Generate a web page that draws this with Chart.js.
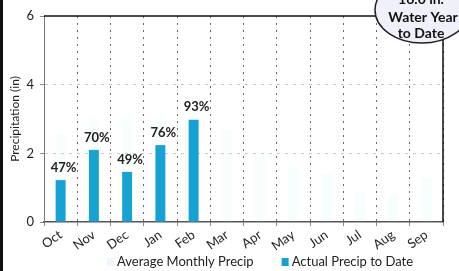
<!DOCTYPE html>
<html>
<head>
<meta charset="utf-8">
<script src="https://cdn.jsdelivr.net/npm/chart.js@4"></script>
<style>
  html, body { margin: 0; padding: 0; background: #fff; }
  #wrap { width: 459px; height: 271px; }
</style>
</head>
<body>
<div id="wrap"><canvas id="Chart1" width="459" height="271"></canvas></div>
<script>
// data
var months = ["Oct", "Nov", "Dec", "Jan", "Feb", "Mar", "Apr", "May", "Jun", "Jul", "Aug", "Sep"];
var averagePrecip = [2.55, 3.0, 2.95, 2.95, 3.2, 2.7, 1.9, 1.6, 1.4, 0.9, 0.8, 1.3];
var actualPrecip = [1.22, 2.1, 1.46, 2.24, 2.98, null, null, null, null, null, null, null];
var percentLabels = ["47%", "70%", "49%", "76%", "93%"];
var yTicks = [0, 2, 4, 6];
var badgeLines = ["16.0 in.", "Water Year", "to Date"];

var font = "Lato, 'DejaVu Sans', sans-serif";

// percentages above the actual bars
var percentPlugin = {
  id: "percent",
  afterDatasetsDraw: function (chart) {
    var ctx = chart.ctx;
    var meta = chart.getDatasetMeta(1);
    ctx.save();
    ctx.font = "bold 13px " + font;
    ctx.fillStyle = "#222";
    ctx.textAlign = "center";
    ctx.textBaseline = "bottom";
    percentLabels.forEach(function (txt, i) {
      var bar = meta.data[i];
      if (!bar) return;
      ctx.fillText(txt, bar.x + 3, bar.y - 6);
    });
    ctx.restore();
  }
};

// frame, scan edge, legend and the badge
var decorPlugin = {
  id: "decor",
  beforeDraw: function (chart) {
    var ctx = chart.ctx;
    ctx.save();
    ctx.fillStyle = "#fff";
    ctx.fillRect(0, 0, chart.width, chart.height);
    ctx.restore();
  },
  afterDraw: function (chart) {
    var ctx = chart.ctx;
    var a = chart.chartArea;
    ctx.save();

    // top and right border
    ctx.strokeStyle = "#111";
    ctx.lineWidth = 1.5;
    ctx.beginPath();
    ctx.moveTo(a.left, a.top);
    ctx.lineTo(a.right, a.top);
    ctx.lineTo(a.right, a.bottom);
    ctx.stroke();

    // legend
    ctx.font = "13px " + font;
    ctx.textBaseline = "middle";
    ctx.textAlign = "left";
    var ly = 262;
    var x = 107;
    chart.data.datasets.forEach(function (ds, i) {
      ctx.fillStyle = i === 0 ? "#eef7fa" : ds.backgroundColor;
      ctx.fillRect(x, ly - 4, 7, 8);
      ctx.fillStyle = "#222";
      ctx.fillText(ds.label, x + 10, ly);
      x += 10 + ctx.measureText(ds.label).width + 28;
    });

    // badge
    ctx.beginPath();
    ctx.ellipse(422, 10, 47, 33, 0, 0, Math.PI * 2);
    ctx.fillStyle = "#eff0f9";
    ctx.fill();
    ctx.strokeStyle = "#222";
    ctx.lineWidth = 1.5;
    ctx.stroke();
    ctx.fillStyle = "#111";
    ctx.font = "bold 14px " + font;
    ctx.textAlign = "center";
    ctx.fillText(badgeLines[0], 421, -1);
    ctx.fillText(badgeLines[1], 423, 17);
    ctx.fillText(badgeLines[2], 421, 33);

    // dark scan edge on the left
    ctx.fillStyle = "#111";
    ctx.fillRect(0, 0, 3, chart.height);
    ctx.restore();
  }
};

var data = {
  labels: months,
  datasets: [
    {
      label: "Average Monthly Precip",
      data: averagePrecip,
      backgroundColor: "rgba(200,235,242,0.12)",
      grouped: false,
      order: 2
    },
    {
      label: "Actual Precip to Date",
      data: actualPrecip,
      backgroundColor: "#17a2d4",
      grouped: false,
      order: 1
    }
  ]
};

var options = {
  responsive: false,
  animation: false,
  layout: { padding: { top: 16, right: 16, bottom: 20, left: 0 } },
  datasets: { bar: { categoryPercentage: 1, barPercentage: 0.3 } },
  plugins: {
    legend: { display: false },
    tooltip: { enabled: false }
  },
  scales: {
    x: {
      afterFit: function (s) { s.height = 29; },
      grid: {
        offset: true,
        color: "#666",
        lineWidth: 1,
        tickLength: 4,
        tickColor: "#888"
      },
      border: { display: true, color: "#555", width: 1.5, dash: [2, 5] },
      ticks: {
        minRotation: 35,
        maxRotation: 35,
        padding: 1,
        font: { family: font, size: 13 },
        color: "#222"
      }
    },
    y: {
      min: 0,
      max: 6,
      afterFit: function (s) { s.width = 44; },
      afterBuildTicks: function (s) {
        s.ticks = yTicks.map(function (v) { return { value: v }; });
      },
      grid: {
        color: function (c) {
          return c.tick && (c.tick.value === 2 || c.tick.value === 4) ? "#c8c8c8" : "rgba(0,0,0,0)";
        },
        tickColor: "#888",
        tickLength: 4
      },
      border: { display: true, color: "#777", width: 1, dash: [3, 5] },
      ticks: {
        padding: 6,
        font: { family: font, size: 13 },
        color: "#222"
      },
      title: {
        display: true,
        text: "Precipitation (in)",
        font: { family: font, size: 12 },
        color: "#222",
        padding: { top: 8, bottom: 0 }
      }
    }
  }
};

var ctx = document.getElementById("Chart1").getContext("2d");
var myChart = new Chart(ctx, {
  type: "bar",
  data: data,
  options: options,
  plugins: [percentPlugin, decorPlugin]
});
</script>
</body>
</html>
